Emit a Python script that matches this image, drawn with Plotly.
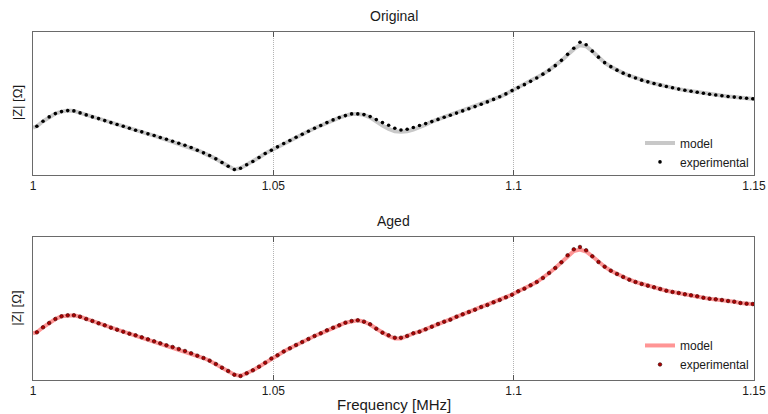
import numpy as np
import plotly.graph_objects as go

# ---- data (|Z| in arbitrary units) ----
FREQ_START = 1.0008   # MHz, first experimental sample
FREQ_STEP = 0.001284  # MHz
N_EXP = 117
exp_freq = FREQ_START + FREQ_STEP * np.arange(N_EXP)
model_freq = np.concatenate([[1.0], exp_freq, [1.15]])

orig_exp = [
    49.3, 54.3, 58.7, 62, 64, 65, 64.7, 62.7, 60.7, 58.7,
    57, 55, 53, 51, 49.3, 47.3, 45.3, 43.7, 41.7, 40,
    38, 36.3, 34.3, 32.3, 30.3, 28, 25.3, 22.7, 20, 16.7,
    13, 9.3, 6, 7.3, 10.7, 14, 18, 22, 25.3, 28.7,
    32, 35, 38.3, 41.3, 44.3, 47.3, 50, 53, 55.7, 58,
    60, 61.7, 61.7, 61, 59, 56, 53, 50.3, 47.3, 45.5,
    46.3, 48, 50, 52, 54, 56.2, 58.3, 60.3, 62.5, 64.7,
    66.8, 69, 71.3, 73.7, 76.2, 78.8, 81.7, 85, 88, 91,
    94.3, 97.7, 101.5, 105.5, 110, 115.3, 121.3, 127.5, 133.5, 131,
    124.5, 118.5, 113, 109, 105.5, 102.5, 100, 97.7, 95.5, 93.8,
    92.1, 90.5, 89.1, 87.8, 86.5, 85.4, 84.4, 83.3, 82.3, 81.4,
    80.6, 79.8, 79.1, 78.5, 77.9, 77.3, 76.8,
]
orig_model = [
    48.0,
    49.3, 54.3, 58.7, 62, 64, 65, 64.7, 62.7, 60.7, 58.7,
    57, 55, 53, 51, 49.3, 47.3, 45.3, 43.7, 41.7, 40,
    38, 36.3, 34.3, 32.3, 30.3, 28, 25.3, 22.7, 20, 16.7,
    13, 9.3, 6, 7.3, 10.7, 14, 18, 22, 25.3, 28.7,
    32, 35, 38.3, 41.3, 44.3, 47.3, 50, 53, 55.7, 58,
    60, 61.6, 61.6, 60.7, 58.3, 54, 50, 46.7, 44.3, 43.7,
    44.3, 46, 48.3, 50.8, 54, 56.2, 58.3, 60.3, 62.5, 64.7,
    66.8, 69, 71.3, 73.7, 76.2, 78.8, 81.7, 85, 88, 91,
    94.3, 97.7, 101.5, 105.5, 110, 115, 120.8, 126.5, 130.5, 129.5,
    124.5, 118.5, 113, 109, 105.5, 102.5, 100, 97.7, 95.5, 93.8,
    92.1, 90.5, 89.1, 87.8, 86.5, 85.4, 84.4, 83.3, 82.3, 81.4,
    80.6, 79.8, 79.1, 78.5, 77.9, 77.3, 76.8,
    76.6,
]
aged_exp = [
    48.7, 53.7, 58, 62, 64.7, 65.7, 65.7, 64.3, 62, 60,
    57.7, 55.7, 53.3, 51.3, 49.3, 47.3, 45.7, 43.7, 41.7, 39.7,
    37.7, 35.7, 34, 32, 30, 27.7, 25.3, 23, 20.3, 17,
    13.3, 10, 6.3, 5, 7.7, 10.7, 14.3, 18.3, 22.5, 25.7,
    29.5, 32.7, 36, 39, 42, 45, 47.7, 50.7, 53.3, 55.7,
    58.3, 60, 60.7, 59.3, 56.7, 52.3, 48.3, 45.7, 43.3, 43.3,
    45, 47.7, 49.3, 51.7, 54.3, 57, 59.3, 61.3, 64.3, 66.7,
    69, 71.3, 74, 76, 78.7, 81, 83.7, 86.3, 89.7, 92.3,
    95.7, 99, 103, 108, 113, 118.7, 125.7, 131.7, 134, 130.7,
    124.7, 119, 114.3, 110.3, 107, 104, 101.3, 99, 97, 95.3,
    93.7, 92, 90.3, 89, 88, 86.7, 85.7, 84.7, 83.3, 82.3,
    81.7, 81, 80, 79.3, 78, 77.3, 77,
]
aged_model = [
    47.7,
    48.7, 53.7, 58, 62, 64.7, 65.7, 65.7, 64.3, 62, 60,
    57.7, 55.7, 53.3, 51.3, 49.3, 47.3, 45.7, 43.7, 41.7, 39.7,
    37.7, 35.7, 34, 32, 30, 27.7, 25.3, 23, 20.3, 17,
    13.3, 10, 6.3, 5, 7.7, 10.7, 14.3, 18.3, 22.5, 25.7,
    29.5, 32.7, 36, 39, 42, 45, 47.7, 50.7, 53.3, 55.7,
    58.3, 60, 60.7, 59.3, 56.5, 52.3, 48.3, 45, 42.6, 42.6,
    45, 47.7, 49.3, 51.7, 54.3, 57, 59.3, 61.3, 64.3, 66.7,
    69, 71.3, 74, 76, 78.7, 81, 83.7, 86.3, 89.7, 92.3,
    95.7, 99, 103, 108, 113, 118.5, 125, 130, 131.5, 129.5,
    124.7, 119, 114.3, 110.3, 107, 104, 101.3, 99, 97, 95.3,
    93.7, 92, 90.3, 89, 88, 86.7, 85.7, 84.7, 83.3, 82.3,
    81.7, 81, 80, 79.3, 78, 77.3, 77,
    76.8,
]

x_ticks = [1.0, 1.05, 1.1, 1.15]
x_tick_labels = ["1", "1.05", "1.1", "1.15"]
titles = ["Original", "Aged"]

FONT = "Liberation Sans, Arial, sans-serif"

fig = go.Figure()
fig.add_trace(go.Scatter(x=model_freq, y=orig_model, mode="lines", name="model",
                         line=dict(color="#c8c8c8", width=4), xaxis="x", yaxis="y",
                         legend="legend"))
fig.add_trace(go.Scatter(x=exp_freq, y=orig_exp, mode="markers", name="experimental",
                         marker=dict(color="black", size=3.6), xaxis="x", yaxis="y",
                         legend="legend"))
fig.add_trace(go.Scatter(x=model_freq, y=aged_model, mode="lines", name="model",
                         line=dict(color="#ff9595", width=4), xaxis="x2", yaxis="y2",
                         legend="legend2"))
fig.add_trace(go.Scatter(x=exp_freq, y=aged_exp, mode="markers", name="experimental",
                         marker=dict(color="#b00000", size=3.6, line=dict(color="#300000", width=0.6)),
                         xaxis="x2", yaxis="y2", legend="legend2"))

xcommon = dict(range=[1.0, 1.15], tickvals=x_ticks, ticktext=x_tick_labels,
               ticks="inside", ticklen=5, tickcolor="#555", mirror="ticks",
               showline=True, linecolor="#6a6a6a", linewidth=1, automargin=False,
               showgrid=True, gridcolor="#b4b4b4", griddash="1px,1px", gridwidth=1,
               zeroline=False, tickfont=dict(size=12, color="#1a1a1a", family=FONT))
ycommon = dict(showticklabels=False, ticks="", showline=True, mirror=True,
               linecolor="#6a6a6a", linewidth=1, showgrid=False, zeroline=False,
               automargin=False)

fig.update_layout(
    width=768, height=414,
    margin=dict(l=33, r=14, t=32, b=34),
    paper_bgcolor="white", plot_bgcolor="white",
    font=dict(family=FONT, color="#1a1a1a"),
    showlegend=True,
    xaxis=dict(domain=[0, 1], anchor="y", **xcommon),
    yaxis=dict(domain=[0.5905, 1], anchor="x", range=[1, 143.7], **ycommon),
    xaxis2=dict(domain=[0, 1], anchor="y2", **xcommon),
    yaxis2=dict(domain=[0, 0.4095], anchor="x2", range=[1, 143.5], **ycommon),
    legend=dict(x=1, xanchor="right", y=0.585, yanchor="bottom",
                bgcolor="rgba(0,0,0,0)", font=dict(size=12, family=FONT),
                itemwidth=30, tracegroupgap=0),
    legend2=dict(x=1, xanchor="right", y=0.003, yanchor="bottom",
                 bgcolor="rgba(0,0,0,0)", font=dict(size=12, family=FONT),
                 itemwidth=30, tracegroupgap=0),
)

annotations = [
    dict(text=titles[0], x=0.5, y=1, xref="paper", yref="paper", xanchor="center",
         yanchor="bottom", yshift=6, showarrow=False, font=dict(size=14, family=FONT)),
    dict(text=titles[1], x=0.5, y=0.4095, xref="paper", yref="paper", xanchor="center",
         yanchor="bottom", yshift=6, showarrow=False, font=dict(size=14, family=FONT)),
    dict(text="|Z| [Ω]", x=0, y=0.7953, xref="paper", yref="paper", xanchor="center",
         yanchor="middle", xshift=-16, textangle=-90, showarrow=False,
         font=dict(size=13, family=FONT)),
    dict(text="|Z| [Ω]", x=0, y=0.2048, xref="paper", yref="paper", xanchor="center",
         yanchor="middle", xshift=-16, textangle=-90, showarrow=False,
         font=dict(size=13, family=FONT)),
    dict(text="Frequency [MHz]", x=0.5, y=0, xref="paper", yref="paper", xanchor="center",
         yanchor="middle", yshift=-24, showarrow=False, font=dict(size=15, family=FONT)),
]
fig.update_layout(annotations=annotations)

fig.write_html("out.html", config={"displayModeBar": False},
               post_script="document.body.style.margin='0';document.body.style.overflow='hidden';")
